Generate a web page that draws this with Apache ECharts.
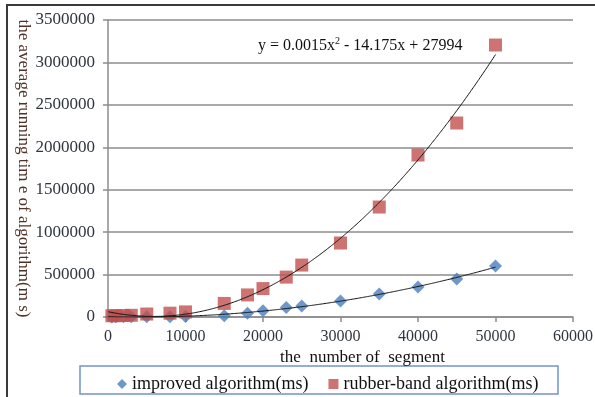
<!DOCTYPE html>
<html><head><meta charset="utf-8">
<script src="https://cdn.jsdelivr.net/npm/echarts@6/dist/echarts.min.js"></script>
<style>html,body{margin:0;padding:0;background:#fff}#c{width:595px;height:397px}</style>
</head><body><div id="c"></div>
<script>
var segments = [500, 1000, 2000, 3000, 5000, 8000, 10000, 15000, 18000, 20000, 23000, 25000, 30000, 35000, 40000, 45000, 50000];
var improved = [1000, 1500, 2000, 2500, 3000, 4000, 6000, 15000, 45000, 75000, 112000, 130000, 189000, 271000, 354000, 448000, 600000];
var rubberBand = [15000, 15000, 18000, 20000, 35000, 45000, 60000, 160000, 260000, 335000, 470000, 612000, 872000, 1296000, 1909000, 2286000, 3205000];
var xTicks = {min: 0, max: 60000, interval: 10000};
var yTicks = {min: 0, max: 3500000, interval: 500000};
var equationText = 'y = 0.0015x{sup|2} - 14.175x + 27994';

function quadFit(xs, ys) {
  var S = [0,0,0,0,0], T = [0,0,0];
  for (var i = 0; i < xs.length; i++) {
    var x = xs[i], p = 1;
    for (var k = 0; k < 5; k++) { S[k] += p; p *= x; }
    T[0] += ys[i]; T[1] += ys[i]*x; T[2] += ys[i]*x*x;
  }
  var M = [[S[0],S[1],S[2],T[0]],[S[1],S[2],S[3],T[1]],[S[2],S[3],S[4],T[2]]];
  for (var c = 0; c < 3; c++) {
    for (var r = c+1; r < 3; r++) {
      var f = M[r][c]/M[c][c];
      for (var j = c; j < 4; j++) M[r][j] -= f*M[c][j];
    }
  }
  var sol = [0,0,0];
  for (var r2 = 2; r2 >= 0; r2--) {
    var s = M[r2][3];
    for (var j2 = r2+1; j2 < 3; j2++) s -= M[r2][j2]*sol[j2];
    sol[r2] = s/M[r2][r2];
  }
  return function(x){ return sol[2]*x*x + sol[1]*x + sol[0]; };
}
function trend(xs, ys) {
  var f = quadFit(xs, ys), out = [];
  var lo = 0, hi = xs[xs.length-1];
  for (var i = 0; i <= 100; i++) { var x = lo + (hi-lo)*i/100; out.push([x, f(x)]); }
  return out;
}
function pairs(xs, ys){ return xs.map(function(x,i){return [x, ys[i]];}); }
function plain(v){ return String(v); }

var font = "'Liberation Serif', 'Times New Roman', serif";
var chart = echarts.init(document.getElementById('c'), null, {renderer:'canvas'});
chart.setOption({
  animation: false,
  backgroundColor: '#fff',
  textStyle: {fontFamily: font},
  grid: {left: 108, right: 22, top: 20, bottom: 80, outerBoundsMode: 'none', containLabel: false},
  xAxis: {
    type: 'value', min: xTicks.min, max: xTicks.max, interval: xTicks.interval,
    name: 'the  number of  segment', nameLocation: 'middle', nameGap: 32, nameMoveOverlap: false,
    nameTextStyle: {fontFamily: font, fontSize: 17, color: '#111', padding: [0,0,0,44]},
    axisLine: {show: true, lineStyle: {color: '#8c8c8c', width: 1.5}},
    axisTick: {show: true, length: 5, lineStyle: {color: '#8c8c8c', width: 1.5}},
    splitLine: {show: false},
    axisLabel: {fontFamily: font, fontSize: 16, color: '#2f3640', margin: 12, formatter: plain}
  },
  yAxis: {
    type: 'value', min: yTicks.min, max: yTicks.max, interval: yTicks.interval,
    name: 'the average running tim e of algorithm(m s)', nameLocation: 'middle', nameRotate: -90, nameGap: 76, nameMoveOverlap: false,
    nameTextStyle: {fontFamily: font, fontSize: 17, color: '#4f3226'},
    axisLine: {show: true, lineStyle: {color: '#8c8c8c', width: 1.5}},
    axisTick: {show: true, length: 5, lineStyle: {color: '#8c8c8c', width: 1.5}},
    splitLine: {show: true, lineStyle: {color: '#8c8c8c', width: 1.5}},
    axisLabel: {fontFamily: font, fontSize: 17, color: '#2f3640', margin: 13, formatter: plain}
  },
  legend: {
    data: [{name:'improved algorithm(ms)', icon:'diamond'}, {name:'rubber-band algorithm(ms)', icon:'rect'}],
    left: 112, top: 370, itemWidth: 10, itemHeight: 10, itemGap: 20,
    textStyle: {fontFamily: font, fontSize: 18, color: '#111'}
  },
  graphic: [
    {type:'rect', shape:{x:7, y:5, width:620, height:420}, style:{fill:'none', stroke:'#3a3a3a', lineWidth:2}, z: -1},
    {type:'rect', shape:{x:80, y:366, width:478, height:28}, style:{fill:'none', stroke:'#7394c8', lineWidth:1.5}},
    {type:'text', left: 258, top: 36, style:{text: equationText, fontFamily: font, fontSize: 16, fill:'#111',
      rich:{sup:{fontSize:10, verticalAlign:'top', padding:[0,0,9,0], fontFamily: font, fill:'#111'}}}}
  ],
  series: [
    {name:'improved trend', type:'line', data: trend(segments, improved), showSymbol:false, smooth:true,
      lineStyle:{color:'#111', width:1}, silent:true, z:3},
    {name:'rubber trend', type:'line', data: trend(segments, rubberBand), showSymbol:false, smooth:true,
      lineStyle:{color:'#111', width:1}, silent:true, z:3},
    {name:'improved algorithm(ms)', type:'scatter', symbol:'diamond', symbolSize:13,
      itemStyle:{color:'#4a7ebb'}, data: pairs(segments, improved), z:2},
    {name:'rubber-band algorithm(ms)', type:'scatter', symbol:'rect', symbolSize:13,
      itemStyle:{color:'#c0504d'}, data: pairs(segments, rubberBand), z:2}
  ]
});
</script></body></html>
